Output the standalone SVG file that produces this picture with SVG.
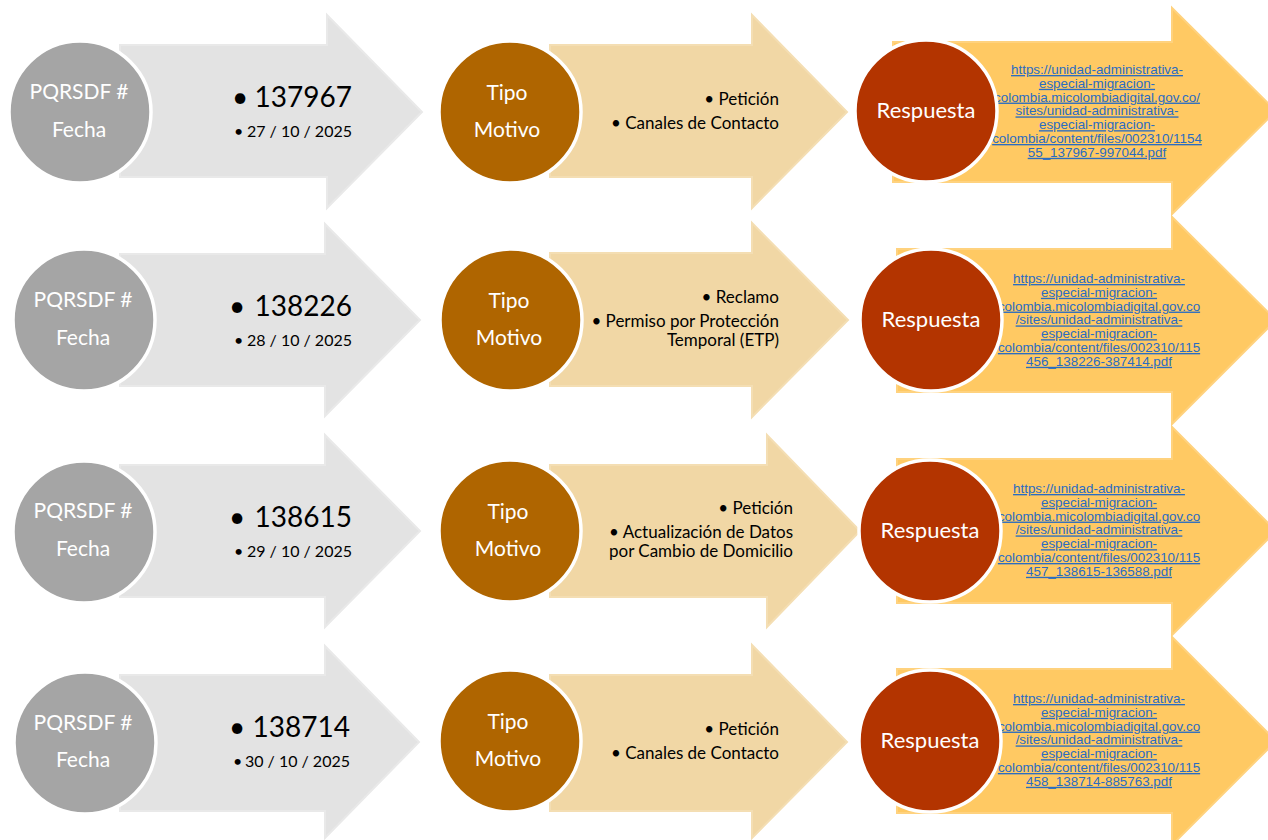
<svg xmlns="http://www.w3.org/2000/svg" width="1268" height="840" viewBox="0 0 1268 840">
<style>
.agray{fill:#E3E3E3;stroke:#E9E9E9;stroke-width:2}
.atan{fill:#F1D7A5;stroke:#F4DEB3;stroke-width:2}
.aora{fill:#FFC963;stroke:#FFD27E;stroke-width:2}
.cgray{fill:#A5A5A5;stroke:#FFFFFF;stroke-width:3.5}
.cbrown{fill:#AF6500;stroke:#FFFFFF;stroke-width:3.5}
.cred{fill:#B33400;stroke:#FFFFFF;stroke-width:3.5}
.clab{font-family:Lato,"Open Sans",sans-serif;font-size:21px;fill:#FFFFFF;text-anchor:middle}
.resp{font-family:Lato,"Open Sans",sans-serif;font-size:22px;fill:#FFFFFF;text-anchor:middle}
.num{font-family:Lato,"Open Sans",sans-serif;font-size:28px;fill:#000000;text-anchor:end}
.date{font-family:Lato,"Open Sans",sans-serif;font-size:16px;fill:#000000;text-anchor:end}
.bbig{font-family:Lato,"Open Sans",sans-serif;font-size:28px;fill:#000000}
.bsm{font-family:Lato,"Open Sans",sans-serif;font-size:16px;fill:#000000}
.mot{font-family:Lato,"Open Sans",sans-serif;font-size:17px;fill:#000000;text-anchor:end}
.link{font-family:"Liberation Sans",Arial,sans-serif;font-size:13.4px;fill:#2A6CC2;text-anchor:middle;text-decoration:underline}
</style>
<rect width="1268" height="840" fill="#FFFFFF"/>
<g id="connectors"></g>

<!-- Row 1 -->
<g id="row1-id">
<path class="agray" d="M120,45 H327 V15 L422,112 L327,208 V177 H120 Z"/>
<text class="bbig" x="232" y="107">•</text>
<text class="num" x="352" y="107">137967</text>
<text class="bsm" x="234" y="137">•</text>
<text class="date" x="352" y="137">27 / 10 / 2025</text>
<circle class="cgray" cx="80" cy="112" r="71"/>
<text class="clab" x="79" y="99">PQRSDF #</text>
<text class="clab" x="79" y="137">Fecha</text>
</g>
<g id="row1-tipo">
<path class="atan" d="M550,45 H752 V15 L847,112 L752,208 V177 H550 Z"/>
<text class="mot" x="779" y="105">• Petición</text>
<text class="mot" x="779" y="129">• Canales de Contacto</text>
<circle class="cbrown" cx="510" cy="112" r="71"/>
<text class="clab" x="507" y="100">Tipo</text>
<text class="clab" x="507" y="137">Motivo</text>
</g>
<g id="row1-resp">
<path class="aora" d="M893,42 H1172 V8 L1276,111 L1172,214 V182 H893 Z"/>
<text class="link" x="1097" y="74">https://unidad-administrativa-</text>
<text class="link" x="1097" y="87.8">especial-migracion-</text>
<text class="link" x="1097" y="101.6">colombia.micolombiadigital.gov.co/</text>
<text class="link" x="1097" y="115.4">sites/unidad-administrativa-</text>
<text class="link" x="1097" y="129.2">especial-migracion-</text>
<text class="link" x="1097" y="143">colombia/content/files/002310/1154</text>
<text class="link" x="1097" y="156.8">55_137967-997044.pdf</text>
<circle class="cred" cx="926" cy="111" r="71"/>
<text class="resp" x="926" y="118">Respuesta</text>
</g>

<!-- Row 2 -->
<g id="row2-id">
<path class="agray" d="M120,254 H325 V224 L420,320 L325,416 V386 H120 Z"/>
<text class="bbig" x="229" y="316">•</text>
<text class="num" x="352" y="316">138226</text>
<text class="bsm" x="234" y="346">•</text>
<text class="date" x="352" y="346">28 / 10 / 2025</text>
<circle class="cgray" cx="84" cy="320" r="71"/>
<text class="clab" x="83" y="307">PQRSDF #</text>
<text class="clab" x="83" y="345">Fecha</text>
</g>
<g id="row2-tipo">
<path class="atan" d="M550,253 H752 V223 L848,320 L752,417 V386 H550 Z"/>
<text class="mot" x="779" y="303">• Reclamo</text>
<text class="mot" x="779" y="327">• Permiso por Protección</text>
<text class="mot" x="779" y="346">Temporal (ETP)</text>
<circle class="cbrown" cx="511" cy="320" r="71"/>
<text class="clab" x="509" y="308">Tipo</text>
<text class="clab" x="509" y="345">Motivo</text>
</g>
<g id="row2-resp">
<path class="aora" d="M897,249 H1172 V217 L1276,320 L1172,424 V392 H897 Z"/>
<text class="link" x="1099" y="283">https://unidad-administrativa-</text>
<text class="link" x="1099" y="296.8">especial-migracion-</text>
<text class="link" x="1099" y="310.6">colombia.micolombiadigital.gov.co</text>
<text class="link" x="1099" y="324.4">/sites/unidad-administrativa-</text>
<text class="link" x="1099" y="338.2">especial-migracion-</text>
<text class="link" x="1099" y="352">colombia/content/files/002310/115</text>
<text class="link" x="1099" y="365.8">456_138226-387414.pdf</text>
<circle class="cred" cx="931" cy="320" r="71"/>
<text class="resp" x="931" y="327">Respuesta</text>
</g>

<!-- Row 3 -->
<g id="row3-id">
<path class="agray" d="M120,465 H325 V435 L420,531 L325,627 V597 H120 Z"/>
<text class="bbig" x="229" y="527">•</text>
<text class="num" x="352" y="527">138615</text>
<text class="bsm" x="234" y="557">•</text>
<text class="date" x="352" y="557">29 / 10 / 2025</text>
<circle class="cgray" cx="84" cy="532" r="71"/>
<text class="clab" x="83" y="518">PQRSDF #</text>
<text class="clab" x="83" y="556">Fecha</text>
</g>
<g id="row3-tipo">
<path class="atan" d="M550,465 H767 V435 L860,531 L767,627 V597 H550 Z"/>
<text class="mot" x="793" y="514">• Petición</text>
<text class="mot" x="793" y="538">• Actualización de Datos</text>
<text class="mot" x="793" y="557">por Cambio de Domicilio</text>
<circle class="cbrown" cx="510" cy="531" r="71"/>
<text class="clab" x="508" y="519">Tipo</text>
<text class="clab" x="508" y="556">Motivo</text>
</g>
<g id="row3-resp">
<path class="aora" d="M897,459 H1172 V427 L1276,531 L1172,635 V603 H897 Z"/>
<text class="link" x="1099" y="493">https://unidad-administrativa-</text>
<text class="link" x="1099" y="506.8">especial-migracion-</text>
<text class="link" x="1099" y="520.6">colombia.micolombiadigital.gov.co</text>
<text class="link" x="1099" y="534.4">/sites/unidad-administrativa-</text>
<text class="link" x="1099" y="548.2">especial-migracion-</text>
<text class="link" x="1099" y="562">colombia/content/files/002310/115</text>
<text class="link" x="1099" y="575.8">457_138615-136588.pdf</text>
<circle class="cred" cx="930" cy="531" r="71"/>
<text class="resp" x="930" y="538">Respuesta</text>
</g>

<!-- Row 4 -->
<g id="row4-id">
<path class="agray" d="M120,675 H325 V646 L419,742 L325,838 V811 H120 Z"/>
<text class="bbig" x="229" y="737">•</text>
<text class="num" x="350" y="737">138714</text>
<text class="bsm" x="233" y="767">•</text>
<text class="date" x="350" y="767">30 / 10 / 2025</text>
<circle class="cgray" cx="85" cy="743" r="71"/>
<text class="clab" x="83" y="730">PQRSDF #</text>
<text class="clab" x="83" y="767">Fecha</text>
</g>
<g id="row4-tipo">
<path class="atan" d="M550,675 H752 V645 L847,742 L752,838 V811 H550 Z"/>
<text class="mot" x="779" y="735">• Petición</text>
<text class="mot" x="779" y="759">• Canales de Contacto</text>
<circle class="cbrown" cx="510" cy="741" r="71"/>
<text class="clab" x="508" y="729">Tipo</text>
<text class="clab" x="508" y="766">Motivo</text>
</g>
<g id="row4-resp">
<path class="aora" d="M897,669 H1172 V637 L1276,741 L1172,845 V813 H897 Z"/>
<text class="link" x="1099" y="703">https://unidad-administrativa-</text>
<text class="link" x="1099" y="716.8">especial-migracion-</text>
<text class="link" x="1099" y="730.6">colombia.micolombiadigital.gov.co</text>
<text class="link" x="1099" y="744.4">/sites/unidad-administrativa-</text>
<text class="link" x="1099" y="758.2">especial-migracion-</text>
<text class="link" x="1099" y="772">colombia/content/files/002310/115</text>
<text class="link" x="1099" y="785.8">458_138714-885763.pdf</text>
<circle class="cred" cx="930" cy="741" r="71"/>
<text class="resp" x="930" y="748">Respuesta</text>
</g>
</svg>
